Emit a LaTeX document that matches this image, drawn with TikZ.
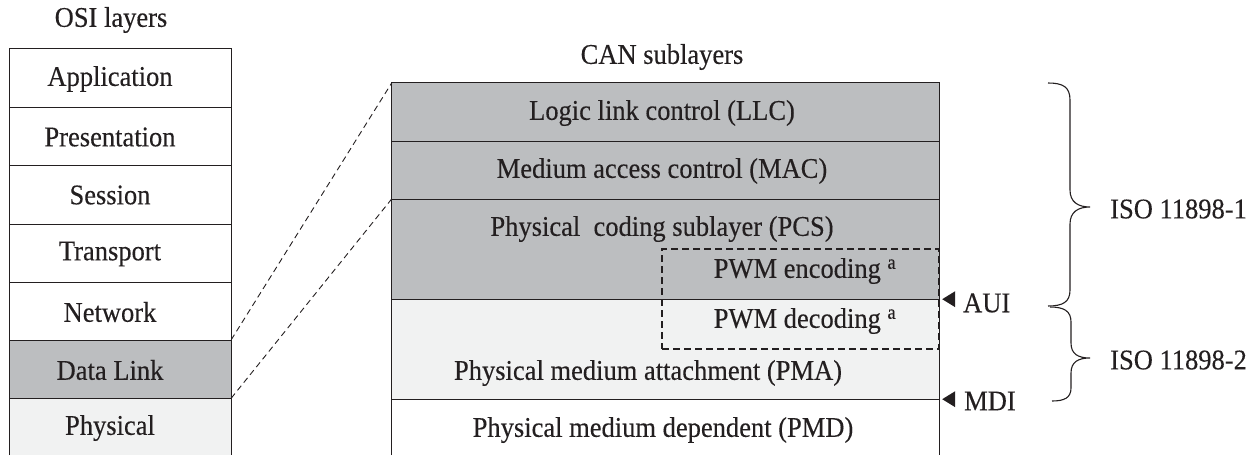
\documentclass[tikz,border=0pt]{standalone}
\usepackage{fontspec}
\setmainfont{Liberation Serif}
\newfontfamily\lblfont[FakeStretch=0.93,FakeBold=0.25]{Liberation Serif}
\definecolor{cdark}{HTML}{BCBEC0}
\definecolor{clight}{HTML}{F1F2F2}
\definecolor{cline}{HTML}{231F20}
\begin{document}
\begin{tikzpicture}[x=1pt,y=-1pt,
  lbl/.style={font=\lblfont\fontsize{28.5}{32}\selectfont, inner sep=0pt, text=cline},
  osicell/.style={rectangle, draw=none, inner sep=0pt, minimum width=221pt},
  cancell/.style={rectangle, draw=none, inner sep=0pt, minimum width=547pt},
  frame/.style={line width=1.3pt, draw=cline},
  conn/.style={line width=0.9pt, draw=cline, dash pattern=on 6pt off 4pt},
  boxdash/.style={line width=1.2pt, draw=cline, dash pattern=on 7pt off 4pt},
  marker/.style={fill=cline}
]
\useasboundingbox (0,0) rectangle (1260,455);

% OSI cells
\node[osicell, fill=white,  minimum height=58pt] (app)   at (120.5,78)   {};
\node[osicell, fill=white,  minimum height=58pt] (pres)  at (120.5,136)  {};
\node[osicell, fill=white,  minimum height=59pt] (sess)  at (120.5,194.5){};
\node[osicell, fill=white,  minimum height=58pt] (trans) at (120.5,253)  {};
\node[osicell, fill=white,  minimum height=58pt] (net)   at (120.5,311)  {};
\node[osicell, fill=cdark,  minimum height=58pt] (dl)    at (120.5,369)  {};
\node[osicell, fill=clight, minimum height=57pt] (phy)   at (120.5,426.5){};

% CAN cells
\node[cancell, fill=cdark,  minimum height=58pt]  (llc) at (665.5,112) {};
\node[cancell, fill=cdark,  minimum height=58pt]  (mac) at (665.5,170) {};
\node[cancell, fill=cdark,  minimum height=100pt] (pcs) at (665.5,249) {};
\node[cancell, fill=clight, minimum height=100pt] (pma) at (665.5,349) {};
\node[cancell, fill=white,  minimum height=56pt]  (pmd) at (665.5,427) {};

% frames
\draw[frame] (phy.south west) |- (app.north east) -- (phy.south east);
\foreach \n in {app,pres,sess,trans,net,dl} \draw[frame] (\n.south west) -- (\n.south east);
\draw[frame] (pmd.south west) |- (llc.north east) -- (pmd.south east);
\foreach \n in {llc,mac,pcs,pma} \draw[frame] (\n.south west) -- (\n.south east);

% dashed PWM box
\node[boxdash, rectangle, inner sep=0pt, minimum width=277pt, minimum height=100pt] (pwm) at (800.5,299) {};

% connectors
\draw[conn] (dl.north east) -- (llc.north west);
\draw[conn] (dl.south east) -- (pcs.north west);

% titles
\node[lbl] (osititle) at (111,20) {OSI layers};
\node[lbl] (cantitle) at (662,57) {CAN sublayers};

% OSI labels
\node[lbl] (tapp)   at (110,79)  {Application};
\node[lbl] (tpres)  at (110,137) {Presentation};
\node[lbl] (tsess)  at (110,195) {Session};
\node[lbl] (ttrans) at (110,254) {Transport};
\node[lbl] (tnet)   at (110,312) {Network};
\node[lbl] (tdl)    at (110,370) {Data Link};
\node[lbl] (tphy)   at (110,428) {Physical};

% CAN labels
\node[lbl] (tllc) at (662,113) {Logic link control (LLC)};
\node[lbl] (tmac) at (662,171) {Medium access control (MAC)};
\node[lbl] (tpcs) at (662,229) {Physical\ \ coding sublayer (PCS)};
\node[lbl] (tenc) at (805,271) {PWM encoding \textsuperscript{a}};
\node[lbl] (tdec) at (805,321) {PWM decoding \textsuperscript{a}};
\node[lbl] (tpma) at (648,373) {Physical medium attachment (PMA)};
\node[lbl] (tpmd) at (663,430) {Physical medium dependent (PMD)};

% AUI / MDI markers
\fill[marker] (pcs.south east) ++(3,0) -- ++(13,-8) -- ++(0,16) -- cycle;
\node[lbl, anchor=west] (aui) at (963,303) {AUI};
\fill[marker] (pma.south east) ++(3,0) -- ++(13,-8) -- ++(0,16) -- cycle;
\node[lbl, anchor=west] (mdi) at (964,401) {MDI};

% braces
\draw[line width=1.1pt, cline]
  (1048,83) .. controls (1063,83) and (1070,87) .. (1070,100)
  -- (1070,190) .. controls (1070,202) and (1078,207) .. (1090,207)
  .. controls (1078,207) and (1070,212) .. (1070,224)
  -- (1070,290) .. controls (1070,302) and (1063,306) .. (1048,306);
\draw[line width=1.1pt, cline]
  (1050,307) .. controls (1064,307) and (1071,311) .. (1071,322)
  -- (1071,343) .. controls (1071,354) and (1078,358) .. (1090,358)
  .. controls (1078,358) and (1071,362) .. (1071,373)
  -- (1071,388) .. controls (1071,398) and (1064,401) .. (1052,401);

\node[lbl, anchor=west] (iso1) at (1110,209) {ISO 11898-1};
\node[lbl, anchor=west] (iso2) at (1110,360) {ISO 11898-2};
\end{tikzpicture}
\end{document}
